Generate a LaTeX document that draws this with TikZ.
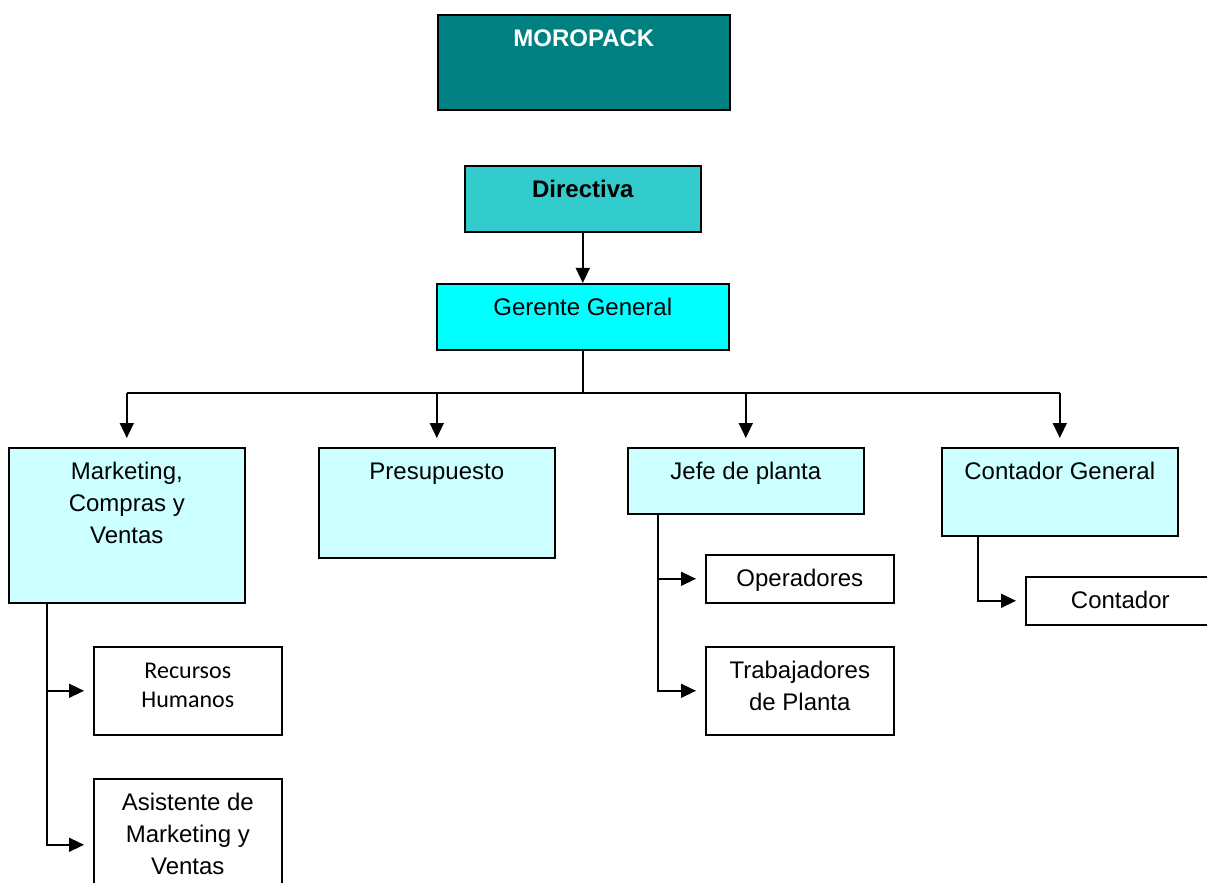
\documentclass[tikz,border=0pt]{standalone}
\usepackage{fontspec}
\setmainfont{Liberation Sans}
\newfontfamily\calibfont{Carlito}
\usetikzlibrary{arrows.meta}
\newlength\unitpx
\setlength\unitpx{0.5pt}
\newcommand\bxt[3]{\parbox[c][#2\unitpx][t]{#1\unitpx}{\centering\rule{0pt}{16pt}#3\par}}
\definecolor{teal1}{HTML}{008080}
\definecolor{teal2}{HTML}{33CCCC}
\definecolor{cyan1}{HTML}{00FFFF}
\definecolor{cyan2}{HTML}{CCFFFF}
\tikzset{
  box/.style={draw=black, line width=0.8pt, inner sep=0pt, anchor=north west,
              font=\fontsize{12}{16}\selectfont},
  conn/.style={line width=0.75pt, draw=black},
  arr/.style={conn, -{Triangle[length=7.5pt,width=7pt]}},
  arrg/.style={arr, shorten >=4.5pt}
}
\begin{document}
\begin{tikzpicture}[x=0.5pt,y=-0.5pt]
\useasboundingbox (0,0) rectangle (1207,883);
% top
\node[box, fill=teal1, text=white] (moro) at (437,14) {\bxt{292}{95}{\bfseries MOROPACK}};
\node[box, fill=teal2] (dir) at (464,165) {\bxt{236}{66}{\bfseries Directiva}};
\node[box, fill=cyan1] (ger) at (436,283) {\bxt{292}{66}{Gerente General}};
% level 2
\node[box, fill=cyan2] (mk) at (8,447) {\bxt{236}{155}{Marketing,\\ Compras y\\ Ventas}};
\node[box, fill=cyan2] (pre) at (318,447) {\bxt{236}{110}{Presupuesto}};
\node[box, fill=cyan2] (jef) at (627,447) {\bxt{236}{66}{Jefe de planta}};
\node[box, fill=cyan2] (cg) at (941,447) {\bxt{236}{88}{Contador General}};
% level 3
\node[box, fill=white] (rh) at (93,646) {\parbox[c][88\unitpx][t]{188\unitpx}{\centering\calibfont\fontsize{12}{14.5}\selectfont\rule{0pt}{16pt}Recursos\\ Humanos\par}};
\node[box, fill=white] (asis) at (93,778) {\bxt{188}{132}{Asistente de\\ Marketing y\\ Ventas}};
\node[box, fill=white] (ope) at (705,554) {\bxt{188}{48}{Operadores}};
\node[box, fill=white] (tra) at (705,646) {\bxt{188}{88}{Trabajadores\\ de Planta}};
\node[box, fill=white] (con) at (1025,576) {\bxt{189}{48}{Contador}};
% connectors
\draw[arr] (dir) -- (ger);
\coordinate (busY) at (0,393);
\coordinate (busC) at (ger.south |- busY);
\draw[conn] (ger.south) -- (busC);
\draw[conn] (mk.north |- busC) -- (cg.north |- busC);
\draw[arrg] (mk.north |- busC) -- (mk.north);
\draw[arrg] (pre.north |- busC) -- (pre.north);
\draw[arrg] (jef.north |- busC) -- (jef.north);
\draw[arrg] (cg.north |- busC) -- (cg.north);
\coordinate (mkL) at (47,602);
\draw[arrg] (mkL) |- (rh.west);
\draw[arrg] (mkL) |- (asis.west);
\coordinate (jefL) at (658,513);
\draw[arrg] (jefL) |- (ope.west);
\draw[arrg] (jefL) |- (tra.west);
\coordinate (cgL) at (978,535);
\draw[arrg] (cgL) |- (con.west);
\end{tikzpicture}
\end{document}
